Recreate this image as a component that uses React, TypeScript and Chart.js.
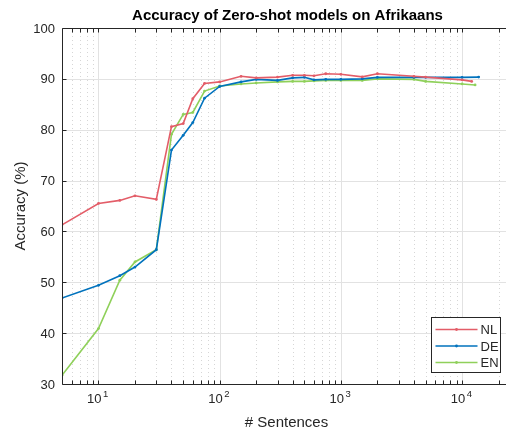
import React, { useEffect, useRef } from 'react';
import { Chart, registerables } from 'chart.js';

Chart.register(...registerables);

const TITLE = 'Accuracy of Zero-shot models on Afrikaans';
const X_LABEL = '# Sentences';
const Y_LABEL = 'Accuracy (%)';

const seriesNames = ['NL', 'DE', 'EN'];
const seriesColors = ['#e35d68', '#0072bd', '#8fd05a'];

const sentences = [5, 10, 15, 20, 30, 40, 50, 60, 75, 100, 150, 200, 300, 400, 500, 600, 750, 1000, 1500, 2000, 4000, 5000, 10000];
const nlAcc = [61.3, 65.5, 66.1, 67.0, 66.3, 80.6, 81.2, 86.1, 89.1, 89.4, 90.5, 90.2, 90.35, 90.7, 90.7, 90.6, 91.0, 90.9, 90.4, 91.0, 90.5, 90.35, 89.8];
const deAcc = [46.9, 49.4, 51.3, 53.0, 56.4, 76.0, 78.9, 81.4, 86.2, 88.5, 89.4, 89.9, 89.7, 90.2, 90.3, 89.8, 89.9, 89.9, 90.0, 90.3, 90.3, 90.3, 90.3];
const enAcc = [31.7, 40.9, 50.4, 54.0, 56.4, 79.1, 83.0, 83.4, 87.6, 88.6, 89.0, 89.2, 89.4, 89.5, 89.5, 89.6, 89.7, 89.7, 89.7, 90.0, 89.9, 89.5, 89.0];
// last point of each series (full training-set size)
const finalSentences = [12000, 13700, 12800];
const finalAcc = [89.5, 90.35, 88.8];

const xMin = 5;
const xMax = 26300;
const yMin = 30;
const yMax = 100;
const xTickValues = [10, 100, 1000, 10000];
const xTickExponents = ['1', '2', '3', '4'];
const yTickValues = [30, 40, 50, 60, 70, 80, 90, 100];

const FONT = '"Liberation Sans", Arial, Helvetica, sans-serif';
const TEXT = '#262626';

function minorXValues(): number[] {
  const out: number[] = [];
  for (let n = 0; n <= 5; n++) {
    for (let k = 1; k <= 9; k++) {
      const v = k * Math.pow(10, n);
      if (v > xMin && v < xMax) out.push(v);
    }
  }
  return out;
}

const framePlugin = {
  id: 'matlabFrame',
  beforeDatasetsDraw(chart: any) {
    const { ctx, chartArea, scales } = chart;
    const { left, right, top, bottom } = chartArea;
    const x = scales.x;
    const y = scales.y;
    ctx.save();
    ctx.lineWidth = 1;
    // minor x grid (dotted)
    ctx.strokeStyle = '#d6d6d6';
    ctx.setLineDash([1, 3]);
    for (const v of minorXValues()) {
      if (xTickValues.includes(v)) continue;
      const px = Math.round(x.getPixelForValue(v)) + 0.5;
      ctx.beginPath();
      ctx.moveTo(px, top);
      ctx.lineTo(px, bottom);
      ctx.stroke();
    }
    // major grid
    ctx.setLineDash([]);
    ctx.strokeStyle = '#e2e2e2';
    for (const v of xTickValues) {
      const px = Math.round(x.getPixelForValue(v)) + 0.5;
      ctx.beginPath();
      ctx.moveTo(px, top);
      ctx.lineTo(px, bottom);
      ctx.stroke();
    }
    for (const v of yTickValues) {
      if (v === yMin || v === yMax) continue;
      const py = Math.round(y.getPixelForValue(v)) + 0.5;
      ctx.beginPath();
      ctx.moveTo(left, py);
      ctx.lineTo(right, py);
      ctx.stroke();
    }
    ctx.restore();
  },
  afterDraw(chart: any) {
    const { ctx, chartArea, scales } = chart;
    const { left, right, top, bottom } = chartArea;
    const x = scales.x;
    const y = scales.y;
    ctx.save();
    ctx.strokeStyle = TEXT;
    ctx.lineWidth = 1;
    const L = Math.round(left) + 0.5;
    const R = Math.round(right) + 0.5;
    const T = Math.round(top) + 0.5;
    const B = Math.round(bottom) + 0.5;
    ctx.beginPath();
    ctx.rect(L, T, R - L, B - T);
    ctx.stroke();
    // x ticks (inward, top and bottom)
    const tickLen = 4;
    for (const v of minorXValues()) {
      const px = Math.round(x.getPixelForValue(v)) + 0.5;
      ctx.beginPath();
      ctx.moveTo(px, B);
      ctx.lineTo(px, B - tickLen);
      ctx.moveTo(px, T);
      ctx.lineTo(px, T + tickLen);
      ctx.stroke();
    }
    for (const v of yTickValues) {
      const py = Math.round(y.getPixelForValue(v)) + 0.5;
      ctx.beginPath();
      ctx.moveTo(L, py);
      ctx.lineTo(L + tickLen, py);
      ctx.moveTo(R, py);
      ctx.lineTo(R - tickLen, py);
      ctx.stroke();
    }
    // y tick labels
    ctx.fillStyle = TEXT;
    ctx.font = `13px ${FONT}`;
    ctx.textAlign = 'right';
    ctx.textBaseline = 'middle';
    for (const v of yTickValues) {
      ctx.fillText(String(v), left - 7, y.getPixelForValue(v) + 1);
    }
    // x tick labels: 10^n
    ctx.textBaseline = 'alphabetic';
    ctx.textAlign = 'left';
    xTickValues.forEach((v, i) => {
      const px = x.getPixelForValue(v);
      ctx.font = `13px ${FONT}`;
      const wBase = ctx.measureText('10').width;
      ctx.font = `9.5px ${FONT}`;
      const wExp = ctx.measureText(xTickExponents[i]).width;
      const start = px - (wBase + wExp + 1) / 2 - 1;
      ctx.font = `13px ${FONT}`;
      ctx.fillText('10', start, bottom + 19);
      ctx.font = `9.5px ${FONT}`;
      ctx.fillText(xTickExponents[i], start + wBase + 1.5, bottom + 13);
    });
    // axis titles
    ctx.font = `15px ${FONT}`;
    ctx.textAlign = 'center';
    ctx.fillText(X_LABEL, (left + right) / 2 - 1, bottom + 43);
    ctx.save();
    ctx.translate(25, (top + bottom) / 2);
    ctx.rotate(-Math.PI / 2);
    ctx.fillText(Y_LABEL, 0, 0);
    ctx.restore();
    // title
    ctx.font = `bold 15px ${FONT}`;
    ctx.fillStyle = '#000';
    ctx.fillText(TITLE, (left + right) / 2, top - 8);
    // legend
    const bx = Math.round(right) - 82 + 0.5;
    const by = Math.round(bottom) - 67 + 0.5;
    const bw = 69;
    const bh = 55;
    ctx.fillStyle = '#ffffff';
    ctx.fillRect(bx, by, bw, bh);
    ctx.strokeStyle = TEXT;
    ctx.strokeRect(bx, by, bw, bh);
    ctx.font = `13px ${FONT}`;
    ctx.textAlign = 'left';
    ctx.textBaseline = 'middle';
    chart.data.datasets.forEach((ds: any, i: number) => {
      const ly = by + 12 + i * 16.5;
      ctx.strokeStyle = ds.borderColor;
      ctx.lineWidth = 1.6;
      ctx.beginPath();
      ctx.moveTo(bx + 4, ly);
      ctx.lineTo(bx + 46, ly);
      ctx.stroke();
      ctx.fillStyle = ds.borderColor;
      ctx.beginPath();
      ctx.arc(bx + 25, ly, 1.4, 0, Math.PI * 2);
      ctx.fill();
      ctx.fillStyle = TEXT;
      ctx.fillText(ds.label, bx + 49, ly + 1);
    });
    ctx.restore();
  },
};

export default function App() {
  const canvasRef = useRef<HTMLCanvasElement | null>(null);

  useEffect(() => {
    document.body.style.margin = '0';
    const canvas = canvasRef.current;
    if (!canvas) return;
    const accs = [nlAcc, deAcc, enAcc];
    const datasets = seriesNames.map((name, i) => ({
      label: name,
      data: [
        ...sentences.map((s, j) => ({ x: s, y: accs[i][j] })),
        { x: finalSentences[i], y: finalAcc[i] },
      ],
      borderColor: seriesColors[i],
      backgroundColor: seriesColors[i],
      borderWidth: 1.6,
      pointRadius: 1.4,
      pointBorderWidth: 0,
      pointBackgroundColor: seriesColors[i],
      tension: 0,
      fill: false,
    }));
    const chart = new Chart(canvas, {
      type: 'line',
      data: { datasets },
      options: {
        responsive: false,
        animation: false,
        devicePixelRatio: 1,
        layout: { padding: { left: 62, top: 28, right: 7, bottom: 44 } },
        scales: {
          x: { type: 'logarithmic', min: xMin, max: xMax, display: false },
          y: { type: 'linear', min: yMin, max: yMax, display: false },
        },
        plugins: {
          legend: { display: false },
          title: { display: false },
          tooltip: { enabled: false },
        },
      },
      plugins: [framePlugin],
    } as any);
    return () => chart.destroy();
  }, []);

  return (
    <div style={{ position: 'absolute', left: 0, top: 0, width: 506, height: 428, overflow: 'hidden', background: '#fff' }}>
      <canvas ref={canvasRef} width={520} height={428} style={{ display: 'block' }} />
    </div>
  );
}
